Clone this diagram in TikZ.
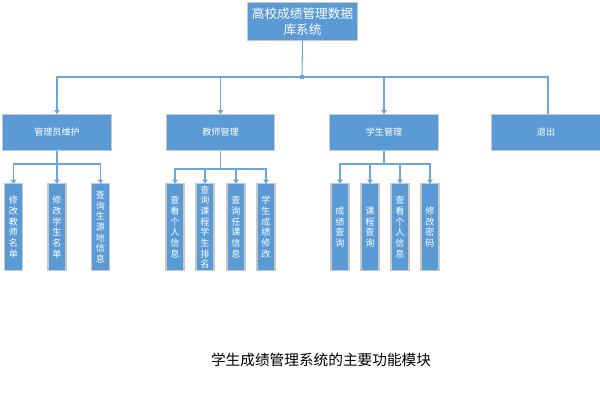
\documentclass[tikz,border=0pt]{standalone}
\usepackage{fontspec}
\setmainfont{Noto Sans CJK SC}
\usetikzlibrary{arrows.meta}
\definecolor{boxblue}{HTML}{5B9BD5}
\definecolor{lineblue}{HTML}{6EA6DB}
\definecolor{rim}{HTML}{C8C8C8}
\tikzset{
  box/.style={draw=rim,line width=0.8pt,fill=boxblue,text=white,inner sep=0pt,outer sep=0pt,align=center},
  topbox/.style={box,minimum width=83pt,minimum height=28.5pt,font=\fontsize{9.5}{12}\selectfont},
  modbox/.style={box,minimum width=81.5pt,minimum height=27.5pt,font=\fontsize{6.8}{8}\selectfont},
  leafbox/.style={box,minimum width=13.5pt,minimum height=65pt,font=\fontsize{6.8}{8}\selectfont},
  link/.style={lineblue,line width=0.8pt},
  arr/.style={link,-{Triangle[width=4pt,length=3pt]}}
}
\begin{document}
\begin{tikzpicture}[x=0.75pt,y=-0.75pt]
  \useasboundingbox (0,0) rectangle (600,400);
  % title
  \node[topbox] (top) at (302.5,21.5) {高校成绩管理数据\\库系统};
  % modules
  \node[modbox] (mgr) at (57,132.5) {管理员维护};
  \node[modbox] (tch) at (220.5,132.5) {教师管理};
  \node[modbox] (stu) at (384,132.5) {学生管理};
  \node[modbox] (quit) at (546,132.5) {退出};
  % leaves
  \node[leafbox] (m1) at (13.5,227) {修\\改\\教\\师\\名\\单};
  \node[leafbox] (m2) at (57,227) {修\\改\\学\\生\\名\\单};
  \node[leafbox] (m3) at (100.5,227) {查\\询\\生\\源\\地\\信\\息};
  \node[leafbox] (t1) at (175,227) {查\\看\\个\\人\\信\\息};
  \node[leafbox] (t2) at (205,227) {查\\询\\课\\程\\学\\生\\排\\名};
  \node[leafbox] (t3) at (236,227) {查\\询\\任\\课\\信\\息};
  \node[leafbox] (t4) at (266,227) {学\\生\\成\\绩\\修\\改};
  \node[leafbox] (s1) at (340,227) {成\\绩\\查\\询};
  \node[leafbox] (s2) at (370,227) {课\\程\\查\\询};
  \node[leafbox] (s3) at (400,227) {查\\看\\个\\人\\信\\息};
  \node[leafbox] (s4) at (430,227) {修\\改\\密\\码};
  % buses
  \coordinate (bus) at (302,77);
  \coordinate (bm) at (57,164);
  \coordinate (bt) at (220.5,169);
  \coordinate (bs) at (384,164);
  \draw[link] (top.south) -- (bus);
  \fill[lineblue] (bus) ++(-2,-2) rectangle ++(4,4);
  \foreach \n in {mgr,tch,stu}
    \draw[arr] (bus) -| (\n.north);
  \draw[link] (bus) -| (quit.north -| 548,0);
  \draw[link] (mgr.south) -- (bm);
  \foreach \n in {m1,m2,m3}
    \draw[arr] (bm) -| (\n.north);
  \draw[link] (tch.south) -- (bt);
  \foreach \n in {t1,t2,t3,t4}
    \draw[arr] (bt) -| (\n.north);
  \draw[link] (stu.south) -- (bs);
  \foreach \n in {s1,s2,s3,s4}
    \draw[arr] (bs) -| (\n.north);
  % caption
  \node[font=\fontsize{11}{13}\selectfont] (cap) at (321,360) {学生成绩管理系统的主要功能模块};
\end{tikzpicture}
\end{document}
